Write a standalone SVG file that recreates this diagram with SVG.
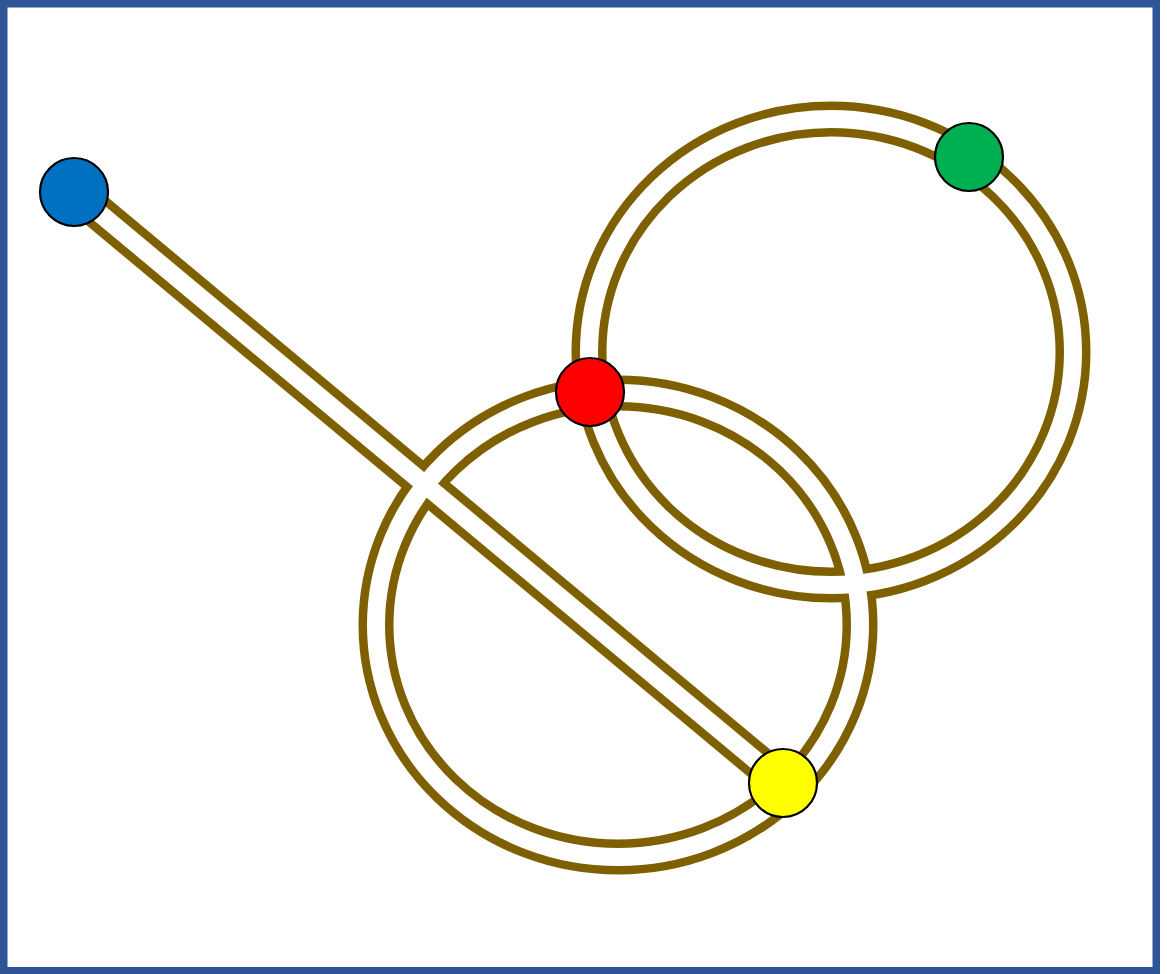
<svg xmlns="http://www.w3.org/2000/svg" width="1167" height="974" viewBox="0 0 1167 974">
<style>
.road{fill:none;stroke:#7F6000;stroke-width:35}
.gap{fill:none;stroke:#FFFFFF;stroke-width:18}
.node{stroke:#000000;stroke-width:2.2}
</style>
<rect x="0" y="0" width="1167" height="974" fill="#FFFFFF"/>
<rect x="3.75" y="3.75" width="1152.5" height="967" fill="none" stroke="#2F5597" stroke-width="7.5"/>
<g id="connectors">
  <g id="road-outer">
    <line class="road" x1="74" y1="192" x2="783" y2="783"/>
    <ellipse class="road" cx="831" cy="352" rx="242" ry="233"/>
    <ellipse class="road" cx="618" cy="625" rx="242" ry="232"/>
  </g>
  <g id="road-inner">
    <line class="gap" x1="74" y1="192" x2="783" y2="783"/>
    <ellipse class="gap" cx="831" cy="352" rx="242" ry="233"/>
    <ellipse class="gap" cx="618" cy="625" rx="242" ry="232"/>
  </g>
</g>
<g id="node-blue"><circle class="node" cx="74" cy="192" r="34" fill="#0070C0"/></g>
<g id="node-red"><circle class="node" cx="590" cy="392" r="34" fill="#FF0000"/></g>
<g id="node-green"><circle class="node" cx="969" cy="157" r="34" fill="#00B050"/></g>
<g id="node-yellow"><circle class="node" cx="783" cy="783" r="34" fill="#FFFF00"/></g>
</svg>
